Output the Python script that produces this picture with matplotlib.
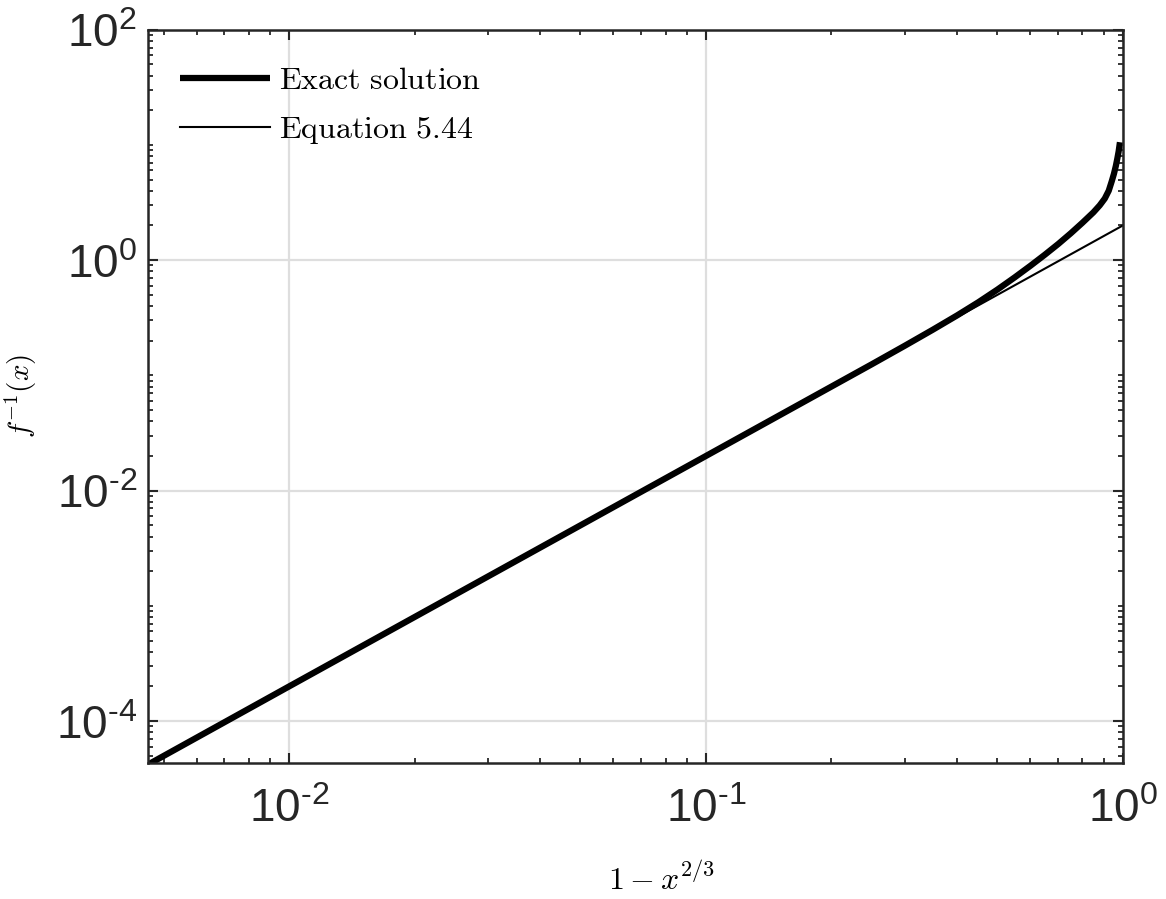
import numpy as np
import matplotlib
matplotlib.use("Agg")
import matplotlib.pyplot as plt
from matplotlib.ticker import LogLocator, FuncFormatter, NullFormatter

plt.rcParams["mathtext.fontset"] = "custom"
plt.rcParams["mathtext.rm"] = "cmr10"
plt.rcParams["mathtext.it"] = "cmmi10"
plt.rcParams["mathtext.sf"] = "Liberation Sans"
plt.rcParams["mathtext.fallback"] = "cm"

# values (x = 1 - x^(2/3), y = f^-1(x))
exact_u = [0.00459, 0.01, 0.1, 0.2, 0.25, 0.3, 0.35, 0.4, 0.45, 0.5,
           0.55, 0.6, 0.65, 0.7, 0.75, 0.8, 0.85, 0.88, 0.905, 0.925,
           0.94, 0.952, 0.962, 0.97, 0.977, 0.984]
exact_y = [4.2e-5, 2.0e-4, 0.02, 0.08, 0.125, 0.181, 0.249, 0.331, 0.431, 0.555,
           0.708, 0.893, 1.115, 1.382, 1.71, 2.112, 2.601, 2.989, 3.424, 4.004,
           4.807, 5.619, 6.571, 7.621, 8.782, 10.55]

eq_u = [0.00459, 1.0]
eq_y = [4.2e-5, 2.0]

x_limits = (0.00459, 1.0)
y_limits = (4.31e-5, 100.0)
x_major = [1e-2, 1e-1, 1e0]
y_major = [1e-4, 1e-2, 1e0, 1e2]

dark = "#262626"

fig = plt.figure(figsize=(11.66, 8.99), dpi=100)
ax = fig.add_axes([0.127, 0.151, 0.836, 0.816])

ax.plot(exact_u, exact_y, color="black", linewidth=4.5, label=r"$\mathrm{Exact\ solution}$",
        solid_capstyle="butt", solid_joinstyle="round")
ax.plot(eq_u, eq_y, color="black", linewidth=1.5, label=r"$\mathrm{Equation\ 5.44}$")

ax.set_xscale("log")
ax.set_yscale("log")
ax.set_xlim(*x_limits)
ax.set_ylim(*y_limits)

ax.set_xticks(x_major)
ax.set_yticks(y_major)
ax.xaxis.set_minor_locator(LogLocator(base=10, subs=np.arange(1, 10), numticks=50))
ax.yaxis.set_minor_locator(LogLocator(base=10, subs=np.arange(1, 10), numticks=50))
ax.xaxis.set_minor_formatter(NullFormatter())
ax.yaxis.set_minor_formatter(NullFormatter())


def sup_label(v, pos):
    e = int(round(np.log10(v)))
    s = str(e).replace("-", "\u2010")
    return r"$\mathsf{10^{%s}}$" % s


ax.xaxis.set_major_formatter(FuncFormatter(sup_label))
ax.yaxis.set_major_formatter(FuncFormatter(sup_label))

ax.tick_params(which="both", direction="in", top=True, right=True, colors=dark)
ax.tick_params(which="major", length=7.5, width=1.5, labelsize=33)
ax.tick_params(axis="x", which="major", pad=17)
ax.tick_params(axis="y", which="major", pad=8)
ax.tick_params(which="minor", length=3.8, width=1.3)

for sp in ax.spines.values():
    sp.set_color(dark)
    sp.set_linewidth(1.8)

ax.grid(True, which="major", color="#dedede", linewidth=1.6)
ax.set_axisbelow(True)

ax.set_xlabel(r"$1 - x^{2/3}$", fontsize=23)
ax.xaxis.set_label_coords(0.527, -0.137)
ax.set_ylabel(r"$f^{-1}(x)$", fontsize=21, labelpad=12)

ax.legend(loc="upper left", bbox_to_anchor=(0.033, 0.952), frameon=False, fontsize=23,
          handlelength=2.8, handletextpad=0.3, labelspacing=0.58, borderpad=0,
          borderaxespad=0)

fig.savefig("out.png", dpi=100)
